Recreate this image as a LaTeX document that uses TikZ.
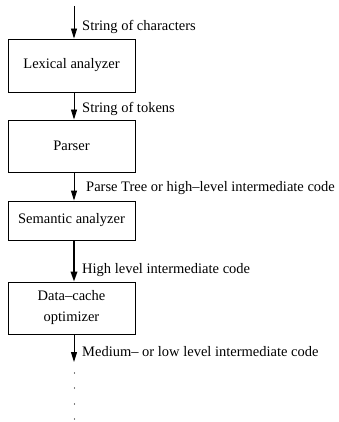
\documentclass[tikz,border=0pt]{standalone}
\usepackage{fontspec}
\setmainfont{Liberation Serif}
\usetikzlibrary{arrows.meta}
\begin{document}
\begin{tikzpicture}[x=1pt,y=-1pt,
  stage/.style={draw, line width=0.9pt, minimum width=127pt, inner sep=0pt, align=center, font=\fontsize{14.5}{21}\selectfont},
  flow/.style={line width=0.9pt, -{Triangle[length=10pt,width=6pt]}},
  flowthick/.style={line width=1.8pt, -{Triangle[length=10pt,width=6.5pt]}},
  lbl/.style={anchor=west, inner sep=0pt, font=\fontsize{14.5}{17}\selectfont},
  dotm/.style={circle, fill, inner sep=0pt, minimum size=1.4pt}]
\useasboundingbox (0,0) rectangle (338,422);
\node[stage, minimum height=53pt] (lex) at (71.5,65.5) {Lexical analyzer};
\node[stage, minimum height=52pt] (par) at (71.5,146) {Parser};
\node[stage, minimum height=39pt] (sem) at (71.5,220.5) {Semantic analyzer};
\node[stage, minimum height=52pt] (dco) at (71.5,308) {Data--cache\\optimizer};
\coordinate (in) at (74,6);
\coordinate (out) at (74,362);
\draw[flow] (in) -- (in |- lex.north);
\draw[flow] (in |- lex.south) -- (in |- par.north);
\draw[flow] (in |- par.south) -- (in |- sem.north);
\draw[flowthick] (in |- sem.south) -- (in |- dco.north);
\draw[flow] (in |- dco.south) -- (out);
\node[lbl] (l1) at (82,27) {String of characters};
\node[lbl] (l2) at (82,109) {String of tokens};
\node[lbl] (l3) at (86,188) {Parse Tree or high--level intermediate code};
\node[lbl] (l4) at (82,270) {High level intermediate code};
\node[lbl] (l5) at (82,352) {Medium-- or low level intermediate code};
\node[dotm] (d1) at (74.5,373) {};
\node[dotm] (d2) at (74.5,388) {};
\node[dotm] (d3) at (74.5,404) {};
\node[dotm] (d4) at (74.5,419) {};
\end{tikzpicture}
\end{document}
